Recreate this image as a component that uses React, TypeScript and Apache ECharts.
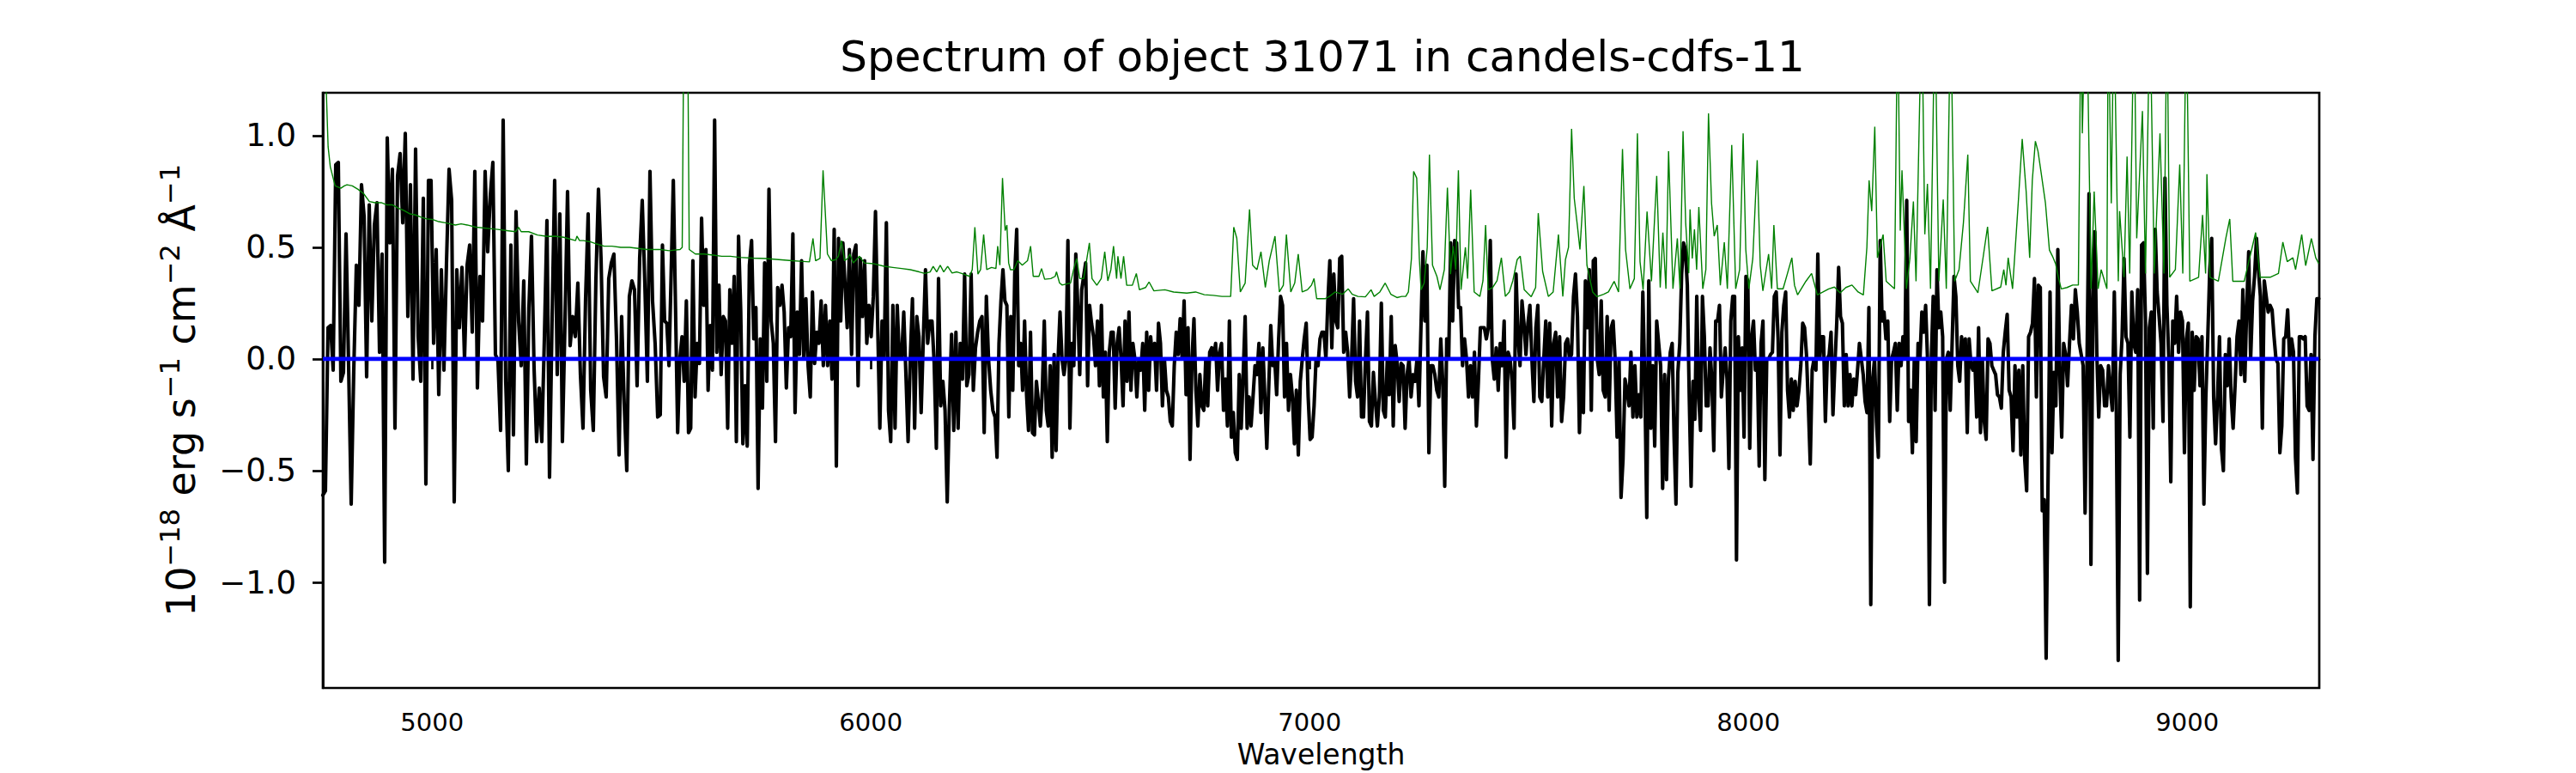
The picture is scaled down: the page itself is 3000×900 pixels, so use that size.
import React, { useEffect, useRef } from "react";
import * as echarts from "echarts";

const FONT = "DejaVu Sans";
const TITLE = "Spectrum of object 31071 in candels-cdfs-11";
const X_NAME = "Wavelength";
const X_MIN = 4751;
const X_MAX = 9301;
const Y_MIN = -1.473;
const Y_MAX = 1.192;
const X_TICKS = [5000, 6000, 7000, 8000, 9000];
const Y_TICKS = [-1.0, -0.5, 0, 0.5, 1.0];

// Wavelength range covered by each block of flux readings below
const SECTION_EDGES = [4751, 5520, 6283, 7046, 7809, 8572, 9300];

const FLUX_A = [
  -0.61, -0.59, 0.14, 0.15, -0.05, 0.87, 0.88, -0.10, -0.06, 0.56,
  -0.03, -0.65, -0.05, 0.42, 0.24, 0.78, 0.64, -0.08, 0.69, 0.17,
  0.60, 0.70, 0.03, 0.47, -0.91, 0.99, 0.52, 0.85, -0.31, 0.82,
  0.92, 0.61, 1.01, 0.19, 0.78, -0.09, 0.94, 0.10, -0.10, 0.72,
  -0.56, 0.80, 0.80, 0.07, 0.49, -0.16, 0.40, -0.05, 0.43, 0.85,
  0.71, -0.64, 0.40, 0.14, 0.41, 0.00, 0.42, 0.51, 0.12, 0.84,
  -0.13, 0.37, 0.17, 0.84, 0.48, 0.73, 0.88, 0.02, -0.01, -0.32,
  1.07, -0.10, -0.50, 0.51, -0.34, 0.66, 0.17, -0.03, 0.35, -0.47,
  0.23, 0.55, -0.04, -0.37, -0.13, -0.37, 0.09, 0.62, -0.53, 0.18,
  0.80, -0.07, 0.65, -0.37, 0.16, 0.75, 0.06, 0.19, 0.10, 0.34,
  -0.07, -0.31, 0.27, 0.65, -0.14, -0.32, 0.35, 0.76, 0.45, -0.08,
  -0.17, 0.36, 0.43, 0.47, 0.09, -0.43, 0.19, -0.20, -0.50, 0.28,
  0.35, 0.31, -0.12, 0.45, 0.71, 0.34, -0.10, 0.84, 0.26, 0.07, -0.26,
];

const FLUX_B = [
  -0.25, 0.51, 0.17, 0.16, -0.03, 0.38, 0.80, 0.24, -0.33, 0.00,
  0.10, -0.10, 0.26, -0.33, -0.31, 0.44, -0.17, 0.07, -0.02, 0.63,
  0.24, 0.49, -0.14, 0.15, -0.05, 1.07, 0.03, 0.33, -0.07, 0.19,
  0.17, -0.31, 0.31, 0.07, 0.37, -0.37, 0.55, 0.22, -0.38, -0.12,
  -0.39, 0.42, 0.53, 0.09, 0.23, -0.58, 0.09, -0.22, 0.43, -0.10,
  0.76, 0.17, 0.07, -0.37, 0.32, 0.24, 0.33, 0.21, -0.13, 0.14,
  0.10, 0.56, -0.24, 0.21, 0.02, 0.44, 0.00, 0.27, -0.03, -0.17,
  0.30, -0.02, 0.12, 0.07, 0.26, -0.03, 0.24, -0.03, 0.17, -0.09,
  0.58, -0.48, 0.54, 0.17, 0.52, 0.33, 0.14, 0.49, 0.02, 0.47,
  0.51, -0.12, 0.45, 0.19, 0.44, 0.07, 0.24, 0.10, 0.28, 0.66,
  0.16, -0.31, 0.17, 0.00, 0.61, -0.23, -0.37, 0.24, -0.31, 0.24,
  0.00, 0.00, 0.21, -0.07, -0.37, 0.00, 0.27, -0.31, 0.19, 0.10,
  -0.24, 0.09, 0.40, 0.07, 0.17, 0.17, -0.02, -0.40, 0.36, -0.21,
  -0.10, -0.23, -0.64, -0.21, 0.11, -0.32, 0.12, -0.31, 0.07, -0.09,
  0.38, -0.12, -0.07, 0.38, -0.14, 0.05, 0.12, 0.17, 0.19, -0.33,
  0.28, 0.00, -0.14, -0.23,
];

const FLUX_C = [
  -0.26, -0.44, 0.07, 0.26, 0.40, 0.26, 0.24, -0.26, 0.19, -0.14,
  0.38, 0.58, -0.03, 0.07, -0.14, 0.17, -0.16, -0.32, 0.12, -0.33,
  -0.34, -0.10, -0.19, -0.30, -0.14, 0.17, -0.23, -0.30, -0.03, -0.44,
  0.02, -0.41, 0.00, 0.21, 0.00, -0.07, 0.00, 0.53, -0.31, 0.07,
  -0.03, 0.47, 0.24, -0.07, 0.31, 0.37, 0.43, -0.12, 0.24, 0.16,
  0.10, -0.03, 0.17, -0.12, 0.24, -0.17, 0.03, -0.37, 0.03, 0.12,
  0.12, -0.22, 0.07, 0.14, 0.00, -0.21, 0.17, -0.10, 0.21, -0.14,
  0.07, 0.00, -0.17, 0.00, -0.05, 0.07, -0.23, 0.12, -0.14, 0.10,
  0.00, 0.07, -0.14, 0.16, 0.07, -0.21, 0.00, -0.14, -0.17, -0.28,
  -0.30, -0.03, 0.12, 0.02, 0.18, 0.00, 0.26, -0.16, 0.14, -0.45,
  0.00, 0.18, -0.14, -0.30, -0.07, -0.21, -0.23, 0.00, -0.21, 0.03,
  0.05, 0.00, 0.07, -0.14, 0.03, 0.07, -0.23, -0.09, -0.30, 0.17,
  -0.35, -0.24, -0.42, -0.45, -0.07, -0.31, -0.07, 0.19, -0.31, -0.17,
  -0.30, -0.17, -0.03, -0.07, 0.07, -0.24, 0.05, -0.17, -0.40, -0.12,
  0.15, -0.03, 0.00, -0.16, 0.09, 0.28, 0.24, -0.17, 0.07, -0.23,
  -0.07, -0.17, -0.38, -0.14, -0.43, -0.10, 0.00, 0.09, 0.16, -0.17,
  -0.36, -0.35, -0.21, 0.00, -0.03, 0.09, 0.12, 0.12, 0.00, 0.26,
];

const FLUX_D = [
  0.44, 0.05, 0.38, 0.17, 0.14, 0.45, 0.46, 0.03, 0.12, 0.03,
  -0.17, 0.00, 0.27, -0.10, -0.17, 0.17, -0.26, -0.26, 0.00, 0.21,
  -0.28, -0.30, -0.06, -0.19, -0.30, -0.17, 0.25, -0.23, -0.26, 0.00,
  -0.16, 0.19, -0.30, 0.06, -0.02, -0.19, -0.02, -0.03, -0.31, -0.07,
  0.00, -0.17, -0.07, -0.10, 0.00, -0.21, 0.14, 0.48, 0.17, 0.42,
  -0.42, -0.03, -0.03, -0.07, -0.14, -0.17, 0.09, -0.10, -0.57, 0.09,
  0.00, 0.52, 0.17, 0.53, 0.52, 0.23, 0.23, -0.03, 0.09, 0.00,
  -0.17, -0.03, -0.17, 0.03, -0.30, -0.10, 0.14, 0.14, 0.14, 0.09,
  0.14, 0.53, 0.00, -0.09, 0.05, -0.14, 0.07, -0.03, 0.17, -0.44,
  0.03, 0.00, -0.10, -0.31, 0.38, 0.10, -0.03, 0.26, 0.16, 0.02,
  0.16, 0.24, 0.00, -0.19, 0.14, 0.24, -0.17, -0.19, 0.00, 0.17,
  -0.17, 0.16, -0.30, 0.07, 0.12, -0.17, 0.10, -0.28, -0.17, 0.07,
  0.09, 0.00, 0.02, 0.28, 0.38, 0.19, -0.33, 0.00, -0.24, 0.35,
  0.14, 0.40, -0.23, 0.44, 0.45, 0.00, -0.07, 0.26, -0.14, -0.17,
  0.19, -0.23, 0.14, 0.17, 0.00, -0.35, 0.00, -0.62, -0.45, -0.09,
  -0.14, -0.21, 0.03, -0.26, -0.03, -0.26, -0.16, -0.26, 0.30, -0.10,
  -0.71, 0.35, -0.31, -0.03, -0.39, 0.17, 0.07, -0.03, -0.58,
];

const FLUX_E = [
  -0.07, -0.54, -0.09, 0.03, 0.07, -0.35, -0.65, -0.06, 0.07, 0.38,
  0.52, 0.49, 0.33, -0.16, -0.57, -0.10, -0.27, 0.28, -0.17, -0.32,
  0.28, 0.10, -0.21, -0.21, 0.05, -0.10, -0.41, 0.17, 0.17, 0.24,
  -0.17, -0.05, 0.05, -0.09, -0.49, 0.17, 0.28, 0.28, -0.90, 0.10,
  -0.14, 0.05, -0.35, 0.37, 0.35, -0.40, 0.10, 0.17, -0.05, 0.00,
  -0.48, 0.07, 0.17, -0.54, 0.00, 0.00, 0.02, 0.03, 0.28, 0.30,
  0.09, -0.43, 0.12, 0.24, 0.30, -0.14, -0.26, -0.09, -0.23, -0.10,
  -0.21, -0.14, -0.03, 0.16, 0.14, 0.02, -0.21, -0.47, -0.05, 0.00,
  -0.05, 0.47, 0.00, 0.10, 0.10, -0.28, 0.00, 0.02, 0.12, -0.25,
  -0.03, 0.16, 0.41, 0.19, 0.16, -0.21, 0.02, -0.21, -0.07, -0.21,
  -0.09, -0.16, -0.05, 0.07, 0.00, -0.07, -0.19, -0.24, 0.23, -1.10,
  -0.09, 0.00, -0.28, -0.44, 0.53, 0.17, 0.21, 0.09, 0.17, -0.28,
  0.00, 0.03, 0.07, -0.23, 0.07, -0.03, 0.10, 0.00, 0.71, -0.28,
  -0.14, -0.42, 0.00, -0.37, 0.07, 0.00, 0.21, 0.12, 0.24, 0.00,
  -1.10, 0.00, 0.28, -0.23, 0.40, 0.14, 0.21, 0.10, -1.00, 0.00,
  0.03, -0.23, 0.07, 0.37, 0.28, -0.03, -0.10, 0.10, 0.00, 0.09,
  -0.33, 0.09, -0.03, -0.05, 0.00, -0.26, 0.14, -0.33, 0.00, -0.28,
  -0.36, 0.09, 0.07, -0.03, -0.05, -0.07, -0.16,
];

const FLUX_F = [
  -0.17, -0.22, 0.03, 0.12, 0.20, -0.14, -0.17, -0.41, -0.03, -0.26,
  -0.05, -0.43, -0.03, -0.45, -0.59, 0.10, 0.12, 0.16, 0.36, -0.17,
  0.33, 0.32, -0.68, -0.63, -1.34, -0.52, 0.30, -0.42, -0.06, -0.21,
  0.49, -0.07, -0.35, 0.07, 0.02, -0.12, 0.07, 0.24, 0.09, 0.31,
  0.21, 0.07, 0.02, -0.03, -0.69, 0.00, 0.74, -0.92, 0.24, 0.57,
  0.03, -0.26, -0.03, -0.05, -0.21, -0.21, -0.03, -0.14, -0.23, 0.30,
  -0.21, -1.35, -0.07, 0.10, 0.45, 0.10, 0.07, -0.35, 0.30, 0.07,
  0.03, 0.31, -1.08, 0.51, 0.52, 0.17, -0.96, 0.14, 0.21, -0.31,
  0.58, 0.30, 0.19, 0.07, -0.28, 0.81, 0.24, 0.00, -0.55, 0.17,
  0.07, 0.28, 0.03, 0.21, 0.17, -0.42, 0.09, 0.16, -1.11, 0.12,
  -0.14, 0.10, 0.09, -0.12, 0.10, -0.65, -0.17, 0.10, 0.40, 0.54,
  -0.17, -0.38, -0.17, 0.10, -0.40, -0.50, 0.02, -0.12, 0.09, -0.17,
  -0.31, -0.12, 0.10, 0.17, -0.07, 0.31, -0.10, 0.24, 0.48, 0.00,
  0.26, 0.37, 0.54, 0.40, 0.28, -0.31, 0.35, 0.28, 0.21, 0.24,
  0.22, 0.10, 0.00, -0.02, -0.42, -0.30, 0.09, 0.10, 0.22, 0.00,
  0.09, 0.03, -0.44, -0.60, 0.10, 0.10, 0.09, 0.10, -0.21, -0.23,
  0.02, -0.45, 0.10, 0.27, 0.27,
];

// Error spectrum as [wavelength, value] readings
const ERROR_SPECTRUM = [
  [4751, 1.5], [4758, 1.25], [4763, 0.95], [4768, 0.86], [4779, 0.775], [4792, 0.765], [4800, 0.775],
  [4806, 0.78], [4818, 0.775], [4831, 0.76], [4844, 0.74], [4857, 0.705], [4870, 0.7], [4884, 0.7],
  [4897, 0.69], [4910, 0.69], [4923, 0.675], [4936, 0.665], [4949, 0.65], [4962, 0.645], [4975, 0.635],
  [4988, 0.627], [5000, 0.625], [5015, 0.615], [5030, 0.61], [5053, 0.6], [5066, 0.605], [5080, 0.6],
  [5100, 0.59], [5131, 0.584], [5150, 0.58], [5170, 0.575], [5190, 0.57], [5197, 0.59], [5203, 0.57],
  [5220, 0.57], [5240, 0.555], [5262, 0.549], [5280, 0.55], [5300, 0.545], [5327, 0.53], [5330, 0.55],
  [5336, 0.53], [5345, 0.53], [5360, 0.525], [5375, 0.515], [5392, 0.505], [5410, 0.505], [5430, 0.5],
  [5450, 0.5], [5470, 0.495], [5490, 0.49], [5520, 0.49],
  [5540, 0.485], [5565, 0.49], [5570, 0.5], [5574, 1.6], [5582, 1.6], [5586, 0.49], [5600, 0.47],
  [5620, 0.47], [5640, 0.465], [5660, 0.46], [5680, 0.46], [5700, 0.455], [5730, 0.452], [5760, 0.45],
  [5790, 0.445], [5820, 0.44], [5845, 0.437], [5860, 0.435], [5868, 0.54], [5874, 0.44], [5884, 0.45],
  [5891, 0.845], [5896, 0.66], [5901, 0.47], [5910, 0.44], [5920, 0.445], [5926, 0.46], [5933, 0.53],
  [5940, 0.44], [5947, 0.45], [5952, 0.47], [5960, 0.43], [5967, 0.445], [5974, 0.46], [5985, 0.43],
  [6005, 0.427], [6030, 0.415], [6050, 0.41], [6070, 0.405], [6090, 0.4], [6110, 0.39], [6123, 0.383],
  [6135, 0.39], [6142, 0.415], [6150, 0.39], [6158, 0.42], [6166, 0.39], [6175, 0.415], [6185, 0.385],
  [6196, 0.39], [6207, 0.383], [6225, 0.37], [6231, 0.4], [6237, 0.59], [6244, 0.38], [6250, 0.4],
  [6257, 0.557], [6264, 0.4], [6275, 0.41], [6285, 0.405],
  [6289, 0.505], [6294, 0.42], [6300, 0.81], [6306, 0.575], [6310, 0.6], [6314, 0.43], [6318, 0.4],
  [6326, 0.4], [6335, 0.44], [6345, 0.42], [6357, 0.44], [6364, 0.505], [6370, 0.37], [6383, 0.37],
  [6389, 0.405], [6396, 0.357], [6410, 0.36], [6420, 0.37], [6423, 0.39], [6430, 0.34], [6436, 0.331],
  [6455, 0.34], [6462, 0.4], [6469, 0.45], [6476, 0.36], [6485, 0.36], [6498, 0.52], [6504, 0.36],
  [6515, 0.33], [6525, 0.36], [6533, 0.48], [6540, 0.35], [6547, 0.4], [6553, 0.505], [6560, 0.36],
  [6563, 0.46], [6570, 0.36], [6576, 0.46], [6583, 0.33], [6596, 0.33], [6605, 0.383], [6612, 0.31],
  [6626, 0.32], [6634, 0.345], [6645, 0.305], [6670, 0.31], [6690, 0.3], [6720, 0.295], [6740, 0.3],
  [6760, 0.288], [6780, 0.285], [6800, 0.28], [6820, 0.28], [6827, 0.59], [6834, 0.54], [6842, 0.3],
  [6853, 0.34], [6863, 0.67], [6870, 0.42], [6880, 0.4], [6889, 0.48], [6899, 0.32], [6908, 0.44],
  [6921, 0.55], [6931, 0.3], [6940, 0.33], [6947, 0.557], [6957, 0.3], [6966, 0.34], [6974, 0.47],
  [6983, 0.3], [6995, 0.31], [7004, 0.33], [7010, 0.36], [7016, 0.27], [7035, 0.27], [7045, 0.28],
  [7058, 0.3], [7075, 0.29], [7088, 0.314], [7097, 0.29], [7110, 0.28], [7127, 0.278], [7140, 0.31],
  [7147, 0.28], [7160, 0.3], [7172, 0.34], [7185, 0.29], [7199, 0.275], [7210, 0.28], [7219, 0.28],
  [7225, 0.3], [7232, 0.45], [7237, 0.84], [7244, 0.81], [7250, 0.45], [7254, 0.31], [7261, 0.34],
  [7268, 0.5], [7273, 0.915], [7280, 0.42], [7290, 0.37], [7297, 0.31], [7307, 0.4], [7314, 0.767],
  [7321, 0.38], [7327, 0.505], [7333, 0.4], [7339, 0.845], [7345, 0.31], [7355, 0.5], [7360, 0.36],
  [7367, 0.758], [7375, 0.3], [7388, 0.28], [7395, 0.35], [7401, 0.6], [7407, 0.31], [7417, 0.32],
  [7427, 0.35], [7437, 0.453], [7446, 0.28], [7455, 0.3], [7463, 0.35], [7473, 0.445], [7480, 0.46],
  [7489, 0.31], [7505, 0.279], [7515, 0.32], [7521, 0.653], [7531, 0.392], [7544, 0.28], [7555, 0.3],
  [7567, 0.557], [7577, 0.28], [7583, 0.445], [7590, 0.5], [7597, 1.03], [7603, 0.72], [7610, 0.6],
  [7616, 0.49], [7625, 0.775], [7632, 0.42], [7645, 0.3], [7655, 0.279], [7670, 0.29], [7681, 0.3],
  [7694, 0.348], [7704, 0.3], [7713, 0.94], [7720, 0.49], [7730, 0.314], [7740, 0.36], [7747, 1.01],
  [7753, 0.436], [7760, 0.31], [7769, 0.66], [7779, 0.348], [7791, 0.82], [7799, 0.32],
  [7805, 0.566], [7812, 0.314], [7818, 0.93], [7828, 0.314], [7838, 0.54], [7844, 0.314], [7851, 1.02],
  [7857, 0.61], [7864, 0.384], [7867, 0.67], [7872, 0.45], [7877, 0.58], [7882, 0.4], [7887, 0.68],
  [7896, 0.314], [7903, 0.4], [7909, 1.1], [7916, 0.697], [7922, 0.55], [7929, 0.6], [7936, 0.33],
  [7945, 0.523], [7952, 0.314], [7962, 0.958], [7971, 0.314], [7980, 0.4], [7988, 1.01], [7994, 0.49],
  [8001, 0.314], [8010, 0.45], [8020, 0.89], [8027, 0.418], [8033, 0.305], [8046, 0.47], [8053, 0.314],
  [8058, 0.6], [8066, 0.314], [8079, 0.314], [8089, 0.383], [8099, 0.453], [8105, 0.33], [8112, 0.287],
  [8131, 0.348], [8144, 0.383], [8157, 0.287], [8170, 0.3], [8183, 0.314], [8196, 0.322], [8209, 0.296],
  [8222, 0.32], [8236, 0.331], [8250, 0.3], [8262, 0.287], [8270, 0.5], [8275, 0.8], [8281, 0.662],
  [8288, 1.04], [8294, 0.453], [8300, 0.5], [8307, 0.557], [8314, 0.348], [8333, 0.314], [8340, 1.6],
  [8346, 0.575], [8350, 0.845], [8360, 0.314], [8368, 0.45], [8376, 0.705], [8382, 0.348], [8395, 1.6],
  [8402, 0.558], [8408, 0.784], [8415, 0.314], [8425, 1.6], [8434, 0.348], [8444, 0.714], [8451, 0.314],
  [8461, 1.6], [8470, 0.348], [8480, 0.4], [8490, 0.61], [8500, 0.915], [8506, 0.348], [8523, 0.296],
  [8536, 0.47], [8545, 0.592], [8555, 0.305], [8575, 0.322],
  [8582, 0.4], [8587, 0.33], [8592, 0.453], [8602, 0.314], [8615, 0.7], [8624, 0.985], [8633, 0.75],
  [8641, 0.453], [8647, 0.8], [8654, 0.975], [8660, 0.93], [8667, 0.836], [8677, 0.697], [8686, 0.488],
  [8693, 0.46], [8700, 0.427], [8707, 0.36], [8713, 0.314], [8726, 0.32], [8739, 0.331], [8752, 0.331],
  [8758, 1.6], [8761, 1.01], [8768, 1.6], [8771, 1.6], [8781, 0.314], [8788, 0.75], [8797, 0.314],
  [8804, 0.4], [8817, 0.314], [8820, 1.6], [8827, 0.697], [8833, 1.6], [8843, 0.348], [8846, 0.662],
  [8856, 0.366], [8863, 0.906], [8869, 0.383], [8879, 1.6], [8885, 0.54], [8898, 1.11], [8905, 0.383],
  [8915, 1.6], [8925, 0.383], [8938, 1.01], [8947, 0.383], [8954, 1.6], [8960, 0.366], [8973, 0.4],
  [8983, 0.871], [8990, 0.383], [8998, 1.6], [9006, 0.348], [9026, 0.366], [9035, 0.645], [9042, 0.383],
  [9045, 0.828], [9052, 0.366], [9071, 0.348], [9088, 0.54], [9097, 0.627], [9104, 0.348], [9130, 0.348],
  [9156, 0.566], [9166, 0.366], [9189, 0.366], [9208, 0.383], [9218, 0.523], [9228, 0.436], [9241, 0.453],
  [9247, 0.4], [9261, 0.557], [9270, 0.418], [9283, 0.54], [9293, 0.453], [9300, 0.427],
];

// Model (flat at zero)
const MODEL = [[4751, 0], [9300, 0]];

const FLUX_SECTIONS = [FLUX_A, FLUX_B, FLUX_C, FLUX_D, FLUX_E, FLUX_F];

function buildFlux() {
  const out: number[][] = [];
  FLUX_SECTIONS.forEach((vals, k) => {
    const a = SECTION_EDGES[k];
    const b = SECTION_EDGES[k + 1];
    const last = k === FLUX_SECTIONS.length - 1;
    const n = vals.length;
    vals.forEach((v, i) => {
      out.push([a + ((b - a) * i) / (last ? n - 1 : n), v]);
    });
  });
  return out;
}

function fmtY(v: number) {
  const s = Math.abs(v).toFixed(1);
  return v < 0 ? "\u2212" + s : s;
}

export default function App() {
  const ref = useRef<HTMLDivElement>(null);
  useEffect(() => {
    if (!ref.current) return;
    const chart = echarts.init(ref.current, null, { renderer: "svg" });
    const axisLine = { show: true, lineStyle: { color: "#000", width: 2.7 } };
    const axisTickStyle = { color: "#000", width: 2.7 };
    chart.setOption({
      animation: false,
      backgroundColor: "#fff",
      textStyle: { fontFamily: FONT },
      grid: {
        left: 376,
        right: 299,
        top: 108,
        bottom: 99,
        show: true,
        borderColor: "#000",
        borderWidth: 2.7,
        backgroundColor: "transparent",
        containLabel: false,
        outerBoundsMode: "none",
      },
      graphic: [
        {
          type: "text",
          x: 1540,
          y: 41,
          style: {
            text: TITLE,
            fontSize: 50,
            fontFamily: FONT,
            fill: "#000",
            align: "center",
            verticalAlign: "top",
          },
        },
      ],
      xAxis: {
        type: "value",
        min: X_MIN,
        max: X_MAX,
        name: X_NAME,
        nameLocation: "middle",
        nameGap: 61,
        nameTextStyle: { fontSize: 33, color: "#000", fontFamily: FONT },
        axisLine,
        axisTick: { show: true, inside: false, length: 12, lineStyle: axisTickStyle, customValues: X_TICKS },
        axisLabel: {
          show: true,
          customValues: X_TICKS,
          fontSize: 29,
          color: "#000",
          fontFamily: FONT,
          margin: 25,
          formatter: (v: number) => String(v),
        },
        splitLine: { show: false },
      },
      yAxis: {
        type: "value",
        min: Y_MIN,
        max: Y_MAX,
        name: "{m|10}{s|\u221218}{m| erg s}{s|\u22121}{m| cm}{s|\u22122}{m| \u00c5}{s|\u22121}",
        nameLocation: "middle",
        nameRotate: 90,
        nameGap: 136,
        nameTextStyle: {
          color: "#000",
          fontFamily: FONT,
          rich: {
            m: { fontSize: 46, fontFamily: FONT, color: "#000" },
            s: { fontSize: 32, fontFamily: FONT, color: "#000", padding: [0, 0, 26, 0] },
          },
        },
        axisLine,
        axisTick: { show: true, inside: false, length: 12, lineStyle: axisTickStyle, customValues: Y_TICKS },
        axisLabel: {
          show: true,
          customValues: Y_TICKS,
          fontSize: 37,
          color: "#000",
          fontFamily: FONT,
          margin: 31,
          formatter: (v: number) => fmtY(v),
        },
        splitLine: { show: false },
      },
      series: [
        {
          name: "flux",
          type: "line",
          data: buildFlux(),
          symbol: "none",
          showSymbol: false,
          clip: true,
          lineStyle: { color: "#000", width: 4.1, join: "round", cap: "round" },
          z: 3,
        },
        {
          name: "error",
          type: "line",
          data: ERROR_SPECTRUM,
          symbol: "none",
          showSymbol: false,
          clip: true,
          lineStyle: { color: "#008000", width: 1.4 },
          z: 4,
        },
        {
          name: "model",
          type: "line",
          data: MODEL,
          symbol: "none",
          showSymbol: false,
          clip: true,
          lineStyle: { color: "#0000ff", width: 4.8 },
          z: 5,
        },
      ],
    });
    return () => chart.dispose();
  }, []);
  return (
    <div
      ref={ref}
      style={{ position: "fixed", left: 0, top: 0, width: 3000, height: 900, background: "#fff" }}
    />
  );
}
